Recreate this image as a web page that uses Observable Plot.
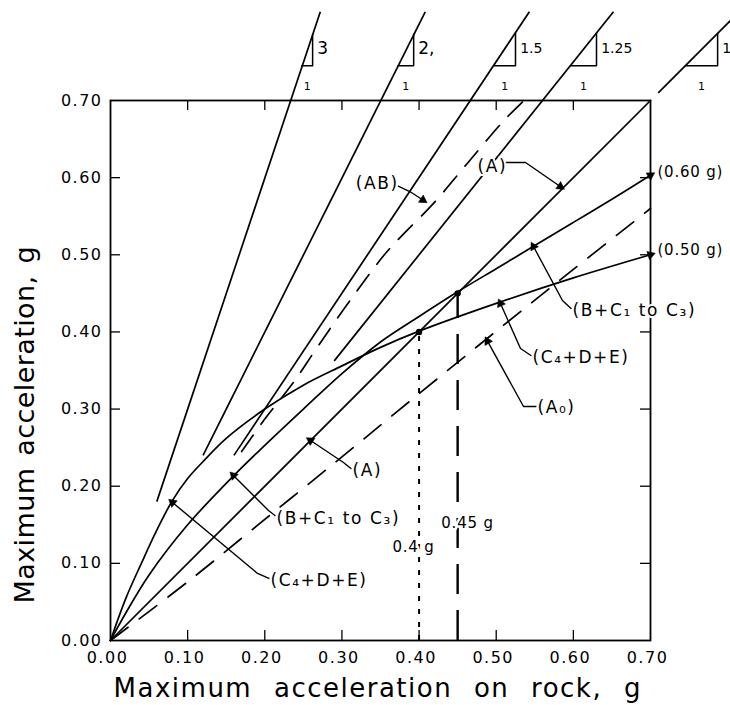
<!DOCTYPE html>
<html><head><meta charset="utf-8">
<script src="https://cdn.jsdelivr.net/npm/d3@7"></script>
<script src="https://cdn.jsdelivr.net/npm/@observablehq/plot@0.6"></script>
<style>
body{margin:0;background:#fff;}
#chart svg{display:block;}
</style></head><body><div id="chart"></div>
<script>
// ---------- axes ----------
const xTicks = [0, 0.1, 0.2, 0.3, 0.4, 0.5, 0.6, 0.7];
const xTickLabels = ["0.00", "0.10", "0.20", "0.30", "0.40", "0.50", "0.60", "0.70"];
const yTicks = [0, 0.1, 0.2, 0.3, 0.4, 0.5, 0.6, 0.7];
const yTickLabels = ["0.00", "0.10", "0.20", "0.30", "0.40", "0.50", "0.60", "0.70"];
const xTitle = "Maximum acceleration on rock, g";
const yTitle = "Maximum acceleration, g";

// ---------- curves (rock acceleration -> site acceleration) ----------
const cdeRock = [0, 0.02, 0.04, 0.06, 0.08, 0.1, 0.12, 0.15, 0.2, 0.25, 0.3, 0.35, 0.4, 0.5, 0.6, 0.7];
const cdeSite = [0, 0.055, 0.1, 0.143, 0.181, 0.21, 0.232, 0.262, 0.3, 0.331, 0.356, 0.38, 0.401, 0.437, 0.47, 0.5];
const bcRock = [0, 0.02, 0.05, 0.1, 0.16, 0.2, 0.25, 0.3, 0.35, 0.4, 0.45, 0.5, 0.55, 0.6, 0.65, 0.7];
const bcSite = [0, 0.036, 0.085, 0.15, 0.214, 0.253, 0.3, 0.346, 0.387, 0.42, 0.452, 0.482, 0.512, 0.542, 0.572, 0.603];
const aRock = [0, 0.7];
const aSite = [0, 0.7];
const abRock = [0.17, 0.2, 0.236, 0.27, 0.31, 0.355, 0.376, 0.419, 0.463, 0.51, 0.536];
const abSite = [0.245, 0.287, 0.333, 0.383, 0.44, 0.5, 0.523, 0.567, 0.619, 0.674, 0.7];
const a0Rock = [0, 0.1, 0.2, 0.3, 0.4, 0.5, 0.6, 0.7];
const a0Site = [0, 0.076, 0.157, 0.238, 0.32, 0.401, 0.481, 0.56];

// ---------- amplification ratio lines ----------
const ratioText = ["3", "2,", "1.5", "1.25", "1"];
const ratioX1 = [0.06, 0.12, 0.16, 0.29, 0.71];
const ratioY1 = [0.18, 0.24, 0.24, 0.3625, 0.71];
const ratioX2 = [0.272, 0.408, 0.543, 0.652, 0.815];
const ratioY2 = [0.815, 0.815, 0.815, 0.815, 0.815];
const triX0 = [0.248, 0.3725, 0.497, 0.596, 0.745];
const triX1 = [0.262, 0.393, 0.525, 0.63, 0.787];
const triY0 = [0.745, 0.745, 0.745, 0.745, 0.745];
const triY1 = [0.786, 0.786, 0.787, 0.787, 0.787];

// ---------- crossing points ----------
const crossRock = [0.4, 0.45];
const crossSite = [0.4, 0.45];
const crossText = ["0.4 g", "0.45 g"];
const crossTextX = [0.3928, 0.4628];
const crossTextY = [0.1206, 0.1517];

// ---------- labels with leaders ----------
const labelText = ["(AB)", "(A)", "(B+C\u2081 to C\u2083)", "(C\u2084+D+E)", "(A\u2080)", "(A)", "(B+C\u2081 to C\u2083)", "(C\u2084+D+E)"];
const labelX = [0.318, 0.4757, 0.599, 0.547, 0.5535, 0.3137, 0.2152, 0.2074];
const labelY = [0.592, 0.6144, 0.4278, 0.3668, 0.302, 0.2204, 0.1581, 0.0778];
const leaderPaths = [
  [[0.373, 0.589], [0.388, 0.582], [0.405, 0.571]],
  [[0.512, 0.6196], [0.538, 0.6196], [0.583, 0.5885]],
  [[0.597, 0.4304], [0.5859, 0.4407], [0.5483, 0.5107]],
  [[0.545, 0.3694], [0.5315, 0.3785], [0.5055, 0.4369]],
  [[0.5515, 0.3033], [0.5354, 0.3033], [0.4887, 0.388]],
  [[0.3117, 0.223], [0.302, 0.2307], [0.2593, 0.2593]],
  [[0.2132, 0.162], [0.2048, 0.1685], [0.1594, 0.2139]],
  [[0.2054, 0.0804], [0.1906, 0.0869], [0.0804, 0.1789]]
];
const endText = ["(0.60 g)", "(0.50 g)"];
const endTextX = [0.709, 0.709];
const endTextY = [0.6067, 0.5056];

// ---------- build tables ----------
const toPts = (xs, ys) => xs.map((x, i) => ({x, y: ys[i]}));
const cde = toPts(cdeRock, cdeSite);
const bc = toPts(bcRock, bcSite);
const aLine = toPts(aRock, aSite);
const ab = toPts(abRock, abSite);
const a0 = toPts(a0Rock, a0Site);
const ratioLines = ratioText.map((t, i) => ({x1: ratioX1[i], y1: ratioY1[i], x2: ratioX2[i], y2: ratioY2[i]}));
const triangles = ratioText.flatMap((t, i) => [
  {id: i, x: triX0[i], y: triY0[i]}, {id: i, x: triX1[i], y: triY0[i]}, {id: i, x: triX1[i], y: triY1[i]}
]);
const ratioLabels = ratioText.map((t, i) => ({t, x: triX1[i] + 0.006, y: (triY0[i] + triY1[i]) / 2 + 0.002, big: i < 2}));
const runLabels = ratioText.map((t, i) => ({t: "1", x: (triX0[i] + triX1[i]) / 2, y: triY0[i] - 0.027}));
const leaders = leaderPaths.flatMap((p, i) => p.map(([x, y]) => ({id: i, x, y})));
const angleOf = (a, b) => Math.atan2(b[0] - a[0], b[1] - a[1]) * 180 / Math.PI;
const heads = leaderPaths.map(p => {
  const a = p[p.length - 2], b = p[p.length - 1];
  return {x: b[0], y: b[1], r: angleOf(a, b)};
});
heads.push({x: bcRock[bcRock.length - 1], y: bcSite[bcSite.length - 1], r: angleOf([bcRock[13], bcSite[13]], [0.7, 0.603])});
heads.push({x: cdeRock[cdeRock.length - 1], y: cdeSite[cdeSite.length - 1], r: angleOf([cdeRock[13], cdeSite[13]], [0.7, 0.5])});
const labels = labelText.map((t, i) => ({t, x: labelX[i], y: labelY[i]}));
const ends = endText.map((t, i) => ({t, x: endTextX[i], y: endTextY[i]}));
const crossPts = crossRock.map((x, i) => ({x, y: crossSite[i]}));
const crossLabels = crossText.map((t, i) => ({t, x: crossTextX[i], y: crossTextY[i]}));
const innerTicks = xTicks.slice(1, -1);
const tl = 0.013;

const font = "DejaVu Sans";
const sw = 1.7;

const chart = Plot.plot({
  width: 730, height: 705,
  marginLeft: 110, marginRight: 80, marginTop: 100, marginBottom: 65,
  x: {domain: [0, 0.7], label: null},
  y: {domain: [0, 0.7], label: null},
  style: {fontFamily: font, fontSize: "15px", color: "black", background: "white"},
  marks: [
    // inward ticks on all four sides
    Plot.ruleX(innerTicks, {x: d => d, y1: 0, y2: tl, stroke: "black", strokeWidth: 1.3}),
    Plot.ruleX(innerTicks, {x: d => d, y1: 0.7 - tl, y2: 0.7, stroke: "black", strokeWidth: 1.3}),
    Plot.ruleY(innerTicks, {y: d => d, x1: 0, x2: tl, stroke: "black", strokeWidth: 1.3}),
    Plot.ruleY(innerTicks, {y: d => d, x1: 0.7 - tl, x2: 0.7, stroke: "black", strokeWidth: 1.3}),
    Plot.axisX(xTicks, {tickSize: 0, tickPadding: 11, dx: -3, tickFormat: d => xTickLabels[xTicks.indexOf(d)], fontSize: 16}),
    Plot.axisY(yTicks, {tickSize: 0, tickPadding: 8, tickFormat: d => yTickLabels[yTicks.indexOf(d)], fontSize: 16}),
    // ratio lines and triangles
    Plot.link(ratioLines, {x1: "x1", y1: "y1", x2: "x2", y2: "y2", stroke: "black", strokeWidth: sw}),
    Plot.line(triangles, {x: "x", y: "y", z: "id", stroke: "black", strokeWidth: 1.5}),
    // curves
    Plot.line(aLine, {x: "x", y: "y", stroke: "black", strokeWidth: sw}),
    Plot.line(bc, {x: "x", y: "y", curve: "catmull-rom", stroke: "black", strokeWidth: sw}),
    Plot.line(cde, {x: "x", y: "y", curve: "catmull-rom", stroke: "black", strokeWidth: sw}),
    Plot.line(ab, {x: "x", y: "y", curve: "catmull-rom", stroke: "black", strokeWidth: sw, strokeDasharray: "20,13"}),
    Plot.line(a0, {x: "x", y: "y", curve: "catmull-rom", stroke: "black", strokeWidth: sw, strokeDasharray: "22,14"}),
    // vertical markers
    Plot.ruleX([crossRock[0]], {x: d => d, y1: 0, y2: crossSite[0], stroke: "black", strokeWidth: 2, strokeDasharray: "5,8"}),
    Plot.ruleX([crossRock[1]], {x: d => d, y1: 0, y2: crossSite[1], stroke: "black", strokeWidth: 2.4, strokeDasharray: "30,16"}),
    Plot.dot(crossPts, {x: "x", y: "y", r: 3.2, fill: "black"}),
    Plot.frame({stroke: "black", strokeWidth: 1.8}),
    // leaders
    Plot.line(leaders, {x: "x", y: "y", z: "id", stroke: "black", strokeWidth: 1.4}),
    Plot.dot(heads, {x: "x", y: "y", rotate: "r", symbol: "triangle", r: 3.2, fill: "black", stroke: "black", strokeWidth: 0.5}),
    // text
    Plot.text(labels, {x: "x", y: "y", text: "t", textAnchor: "start", fontSize: 17, stroke: "white", strokeWidth: 4, fill: "black"}),
    Plot.text(ends, {x: "x", y: "y", text: "t", textAnchor: "start", fontSize: 15, stroke: "white", strokeWidth: 3, fill: "black"}),
    Plot.text(crossLabels, {x: "x", y: "y", text: "t", fontSize: 15, stroke: "white", strokeWidth: 5, fill: "black"}),
    Plot.text(ratioLabels, {x: "x", y: "y", text: "t", textAnchor: "start", fontSize: d => d.big ? 17 : 14, fill: "black"}),
    Plot.text(runLabels, {x: "x", y: "y", text: "t", fontSize: 11, fill: "black"}),
    Plot.text([{x: 0.004, y: 0}], {x: "x", y: "y", dy: 48, text: () => xTitle, textAnchor: "start", lineAnchor: "middle", fontSize: 26, fill: "black"}),
    Plot.text([{x: 0, y: 0.048}], {x: "x", y: "y", dx: -85, rotate: -90, text: () => yTitle, textAnchor: "start", lineAnchor: "middle", fontSize: 27, fill: "black"})
  ]
});
document.getElementById("chart").appendChild(chart);
// letter / word spacing to match the wide lettering of the original
chart.querySelectorAll("text").forEach(el => {
  const s = el.textContent;
  if (s === xTitle) { el.style.letterSpacing = "1.5px"; el.style.wordSpacing = "12px"; }
  else if (s === yTitle) { el.style.letterSpacing = "0.4px"; el.style.wordSpacing = "3px"; }
  else if (xTickLabels.includes(s)) { el.style.letterSpacing = "1.5px"; }
  else if (labelText.includes(s)) { el.style.letterSpacing = "1.6px"; }
  else if (endText.includes(s) || crossText.includes(s)) { el.style.letterSpacing = "0.8px"; }
});
</script></body></html>
